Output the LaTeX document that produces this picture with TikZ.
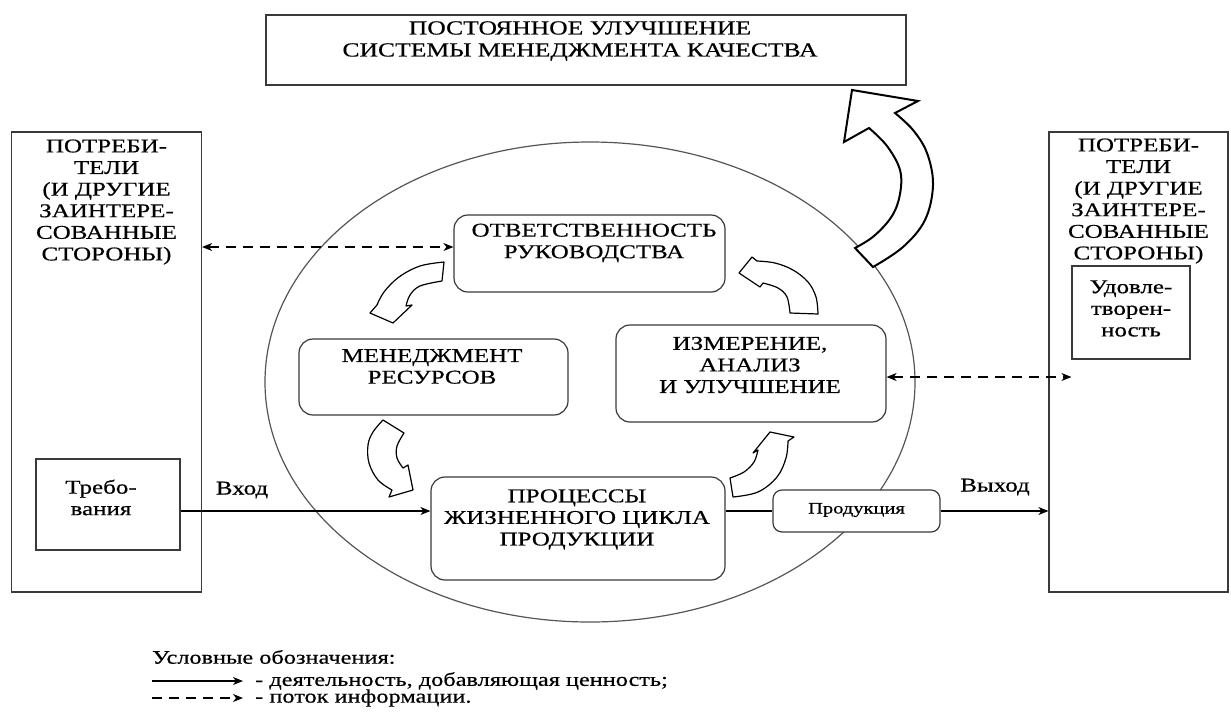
\documentclass[tikz,border=0pt]{standalone}
\usepackage{fontspec}
\setmainfont{Liberation Serif}[FakeStretch=1.28, FakeBold=0.5]
\usetikzlibrary{arrows.meta}
\definecolor{boxc}{HTML}{3A3A3A}
\definecolor{ellc}{HTML}{555555}
\tikzset{
  sqbox/.style={draw=boxc, line width=1.2pt, fill=white, rectangle, inner sep=0pt},
  rndbox/.style={draw=boxc, line width=1.2pt, fill=white, rounded corners=14pt, inner sep=0pt},
  txt/.style={font=\fontsize{19.5}{21.6}\selectfont, align=center, inner sep=0pt},
  toptxt/.style={font=\fontsize{20}{22}\selectfont, align=center, inner sep=0pt},
  legtxt/.style={font=\fontsize{19}{20}\selectfont, inner sep=0pt},
  smalltxt/.style={font=\fontsize{16}{18}\selectfont, align=center, inner sep=0pt},
  flow/.style={line width=1.1pt, -{Stealth[length=10pt,width=8pt,inset=3pt]}},
  plain/.style={line width=1.1pt},
  info/.style={line width=1.1pt, dash pattern=on 10pt off 7pt,
    {Stealth[length=10pt,width=8pt,inset=3pt]}-{Stealth[length=10pt,width=8pt,inset=3pt]}},
  infoone/.style={line width=1.1pt, dash pattern=on 10pt off 7pt,
    -{Stealth[length=10pt,width=8pt,inset=3pt]}},
  blockarrow/.style={draw=black, line width=1.2pt, fill=white, line join=round},
  bigarrow/.style={draw=black, line width=2pt, fill=white, line join=miter},
  ell/.style={draw=ellc, line width=1.2pt},
}
\begin{document}
\begin{tikzpicture}[x=1pt,y=-1pt]
\useasboundingbox (0,0) rectangle (1231,713);

% big ellipse
\draw[ell] (590,382) ellipse [x radius=325pt, y radius=240pt];

% big curved arrow to the top box
\draw[bigarrow] (855,248) -- (873,267)
  -- plot[smooth, tension=0.6] coordinates {(873,267) (903,247) (925,220) (933,185) (927,153) (913,130) (895,113)}
  -- (918,101) -- (852,90) -- (844,142) -- (869,128)
  -- plot[smooth, tension=0.6] coordinates {(869,128) (887,146) (900,170) (900,194) (892,216) (874,236) (855,248)}
  -- cycle;

% top box
\node[sqbox, minimum width=640pt, minimum height=70pt] (top) at (586,50) {};
\node[toptxt] (topt) at (580,41) {ПОСТОЯННОЕ УЛУЧШЕНИЕ\\СИСТЕМЫ МЕНЕДЖМЕНТА КАЧЕСТВА};

% side boxes
\node[sqbox, minimum width=190pt, minimum height=460pt] (lbox) at (106.5,362) {};
\node[txt] (lboxt) at (106.5,202) {ПОТРЕБИ-\\ТЕЛИ\\(И ДРУГИЕ\\ЗАИНТЕРЕ-\\СОВАННЫЕ\\СТОРОНЫ)};
\node[sqbox, minimum width=179pt, minimum height=460pt] (rbox) at (1138.5,362) {};
\node[txt] (rboxt) at (1138.5,201) {ПОТРЕБИ-\\ТЕЛИ\\(И ДРУГИЕ\\ЗАИНТЕРЕ-\\СОВАННЫЕ\\СТОРОНЫ)};

\node[sqbox, minimum width=144pt, minimum height=91pt] (treb) at (108,504.5) {};
\node[txt] (trebt) at (101,497.5) {Требо-\\вания};
\node[sqbox, minimum width=118pt, minimum height=93pt] (udov) at (1131,312.5) {};
\node[txt] (udovt) at (1131,308.5) {Удовле-\\творен-\\ность};

% process boxes
\node[rndbox, minimum width=271pt, minimum height=77pt] (otv) at (589.5,253.5) {};
\node[txt] (otvt) at (594,243) {ОТВЕТСТВЕННОСТЬ\\РУКОВОДСТВА};
\node[rndbox, minimum width=269pt, minimum height=76pt] (men) at (433.5,377) {};
\node[txt] (ment) at (432,366.5) {МЕНЕДЖМЕНТ\\РЕСУРСОВ};
\node[rndbox, minimum width=270pt, minimum height=97pt] (izm) at (751,373.5) {};
\node[txt] (izmt) at (750,365) {ИЗМЕРЕНИЕ,\\АНАЛИЗ\\И УЛУЧШЕНИЕ};
\node[rndbox, minimum width=294pt, minimum height=103pt] (proc) at (578,528.5) {};
\node[txt] (proct) at (577,519.5) {ПРОЦЕССЫ\\ЖИЗНЕННОГО ЦИКЛА\\ПРОДУКЦИИ};
\node[rndbox, rounded corners=9pt, minimum width=167pt, minimum height=42pt] (prod) at (856.5,511) {};
\node[smalltxt] (prodt) at (856.5,510) {Продукция};

% small curved block arrows
\draw[blockarrow] (444,262)
  -- plot[smooth, tension=0.6] coordinates {(444,262) (420,266) (399,277) (384,292) (377,305)}
  -- (370,313) -- (393,323) -- (412,305) -- (406,306)
  -- plot[smooth, tension=0.6] coordinates {(406,306) (410,295) (420,286) (442,281)}
  -- cycle;
\draw[blockarrow] (790,313) -- (818,314)
  -- plot[smooth, tension=0.6] coordinates {(818,314) (816,297) (808,282) (793,270) (775,263) (757,261)}
  -- (752,257) -- (739,273) -- (760,287) -- (763,283)
  -- plot[smooth, tension=0.6] coordinates {(763,283) (778,288) (787,297) (790,313)}
  -- cycle;
\draw[blockarrow] (383,420) -- (404,433)
  -- plot[smooth, tension=0.6] coordinates {(404,433) (397,446) (397,458) (403,468)}
  -- (408,465) -- (413,490) -- (389,497) -- (392,490)
  -- plot[smooth, tension=0.6] coordinates {(392,490) (378,480) (369,463) (368,445) (373,432) (383,420)}
  -- cycle;
\draw[blockarrow] (730,478) -- (733,497)
  -- plot[smooth, tension=0.6] coordinates {(733,497) (758,492) (777,477) (786,458) (788,441)}
  -- (794,437) -- (770,432) -- (753,453) -- (758,450)
  -- plot[smooth, tension=0.6] coordinates {(758,450) (754,462) (744,472) (730,478)}
  -- cycle;

% connectors
\draw[flow] (treb.east |- prod.west) -- (proc.west |- prod.west);
\draw[plain] (proc.east |- prod.west) -- (prod.west);
\draw[flow] (prod.east) -- (rbox.west |- prod.east);
\node[txt] (vhod) at (242,490) {Вход};
\node[txt] (vyhod) at (995,487) {Выход};

\coordinate (otvin) at ([yshift=6.5pt]otv.west);
\coordinate (izmout) at ([yshift=-3.5pt]izm.east);
\draw[info] (lbox.east |- otvin) -- (otvin);
\draw[info] (izmout) -- (udov.west |- izmout);

% legend
\node[legtxt, anchor=west] (leg) at (152,657) {Условные обозначения:};
\coordinate (l1a) at (152,681);
\coordinate (l1b) at (243,681);
\coordinate (l2a) at (152,698);
\coordinate (l2b) at (243,698);
\draw[flow] (l1a) -- (l1b);
\draw[infoone] (l2a) -- (l2b);
\node[legtxt, anchor=west] (leg1) at (255,681) {- деятельность, добавляющая ценность;};
\node[legtxt, anchor=west] (leg2) at (255,698) {- поток информации.};
\end{tikzpicture}
\end{document}
